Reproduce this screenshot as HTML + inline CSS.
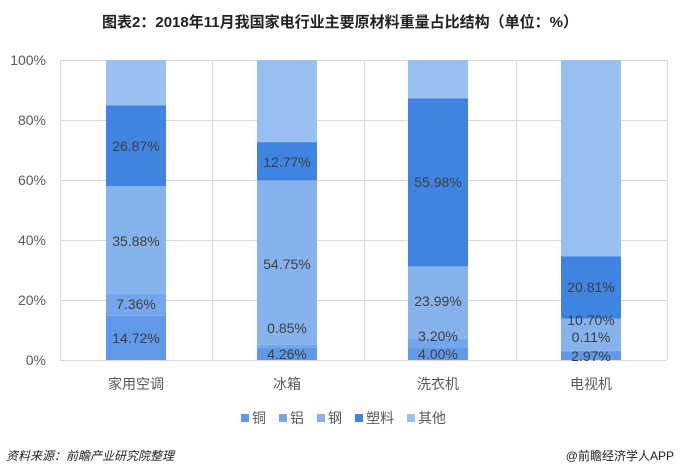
<!DOCTYPE html>
<html><head><meta charset="utf-8"><style>
body{margin:0;background:#fff;}
svg{display:block;font-family:"Liberation Sans","Noto Sans CJK SC",sans-serif;}
.l{font-size:14px;fill:#404040;text-anchor:middle;dominant-baseline:central;}
.ax{font-size:14px;fill:#595959;}
</style></head><body>
<svg width="680" height="474" viewBox="0 0 680 474" xmlns="http://www.w3.org/2000/svg">
<rect width="680" height="474" fill="#fff"/>
<text x="340" y="27" text-anchor="middle" font-size="15" font-weight="bold" fill="#222">图表2：2018年11月我国家电行业主要原材料重量占比结构（单位：%）</text>
<g stroke="#d9d9d9" stroke-width="1">
<line x1="60" y1="60.5" x2="667" y2="60.5"/>
<line x1="60" y1="120.5" x2="667" y2="120.5"/>
<line x1="60" y1="180.5" x2="667" y2="180.5"/>
<line x1="60" y1="240.5" x2="667" y2="240.5"/>
<line x1="60" y1="300.5" x2="667" y2="300.5"/>
<line x1="60" y1="360.5" x2="667" y2="360.5"/>
<line x1="60.5" y1="60" x2="60.5" y2="360"/>
<line x1="212.5" y1="60" x2="212.5" y2="360"/>
<line x1="364.5" y1="60" x2="364.5" y2="360"/>
<line x1="516.5" y1="60" x2="516.5" y2="360"/>
<line x1="667.5" y1="60" x2="667.5" y2="360"/>
</g>
<g class="ax" text-anchor="end">
<text x="46" y="65">100%</text><text x="46" y="125">80%</text><text x="46" y="185">60%</text>
<text x="46" y="245">40%</text><text x="46" y="305">20%</text><text x="46" y="365">0%</text>
</g>
<!-- AC -->
<g>
<rect x="106" y="315.84" width="60" height="44.16" fill="#5f99e7"/>
<rect x="106" y="293.76" width="60" height="22.08" fill="#74a6ec"/>
<rect x="106" y="186.12" width="60" height="107.64" fill="#86b2ee"/>
<rect x="106" y="105.51" width="60" height="80.61" fill="#3f84e0"/>
<rect x="106" y="60" width="60" height="45.51" fill="#98c0f2"/>
</g>
<g>
<rect x="257" y="347.22" width="60" height="12.78" fill="#5f99e7"/>
<rect x="257" y="344.67" width="60" height="2.55" fill="#74a6ec"/>
<rect x="257" y="180.42" width="60" height="164.25" fill="#86b2ee"/>
<rect x="257" y="142.11" width="60" height="38.31" fill="#3f84e0"/>
<rect x="257" y="60" width="60" height="82.11" fill="#98c0f2"/>
</g>
<g>
<rect x="408" y="348" width="60" height="12" fill="#5f99e7"/>
<rect x="408" y="338.4" width="60" height="9.6" fill="#74a6ec"/>
<rect x="408" y="266.43" width="60" height="71.97" fill="#86b2ee"/>
<rect x="408" y="98.49" width="60" height="167.94" fill="#3f84e0"/>
<rect x="408" y="60" width="60" height="38.49" fill="#98c0f2"/>
</g>
<g>
<rect x="561" y="351.09" width="60" height="8.91" fill="#5f99e7"/>
<rect x="561" y="350.76" width="60" height="0.33" fill="#74a6ec"/>
<rect x="561" y="318.66" width="60" height="32.1" fill="#86b2ee"/>
<rect x="561" y="256.23" width="60" height="62.43" fill="#3f84e0"/>
<rect x="561" y="60" width="60" height="196.23" fill="#98c0f2"/>
</g>
<g class="l">
<text x="136" y="146">26.87%</text><text x="136" y="241">35.88%</text><text x="136" y="304">7.36%</text><text x="136" y="338">14.72%</text>
<text x="287" y="162">12.77%</text><text x="287" y="264">54.75%</text><text x="287" y="328">0.85%</text><text x="287" y="354">4.26%</text>
<text x="438" y="182">55.98%</text><text x="438" y="301">23.99%</text><text x="438" y="336">3.20%</text><text x="438" y="354">4.00%</text>
<text x="591" y="287">20.81%</text><text x="591" y="320">10.70%</text><text x="591" y="337">0.11%</text><text x="591" y="356">2.97%</text>
</g>
<g class="ax" text-anchor="middle">
<text x="136" y="389">家用空调</text><text x="287" y="389">冰箱</text><text x="438" y="389">洗衣机</text><text x="591" y="389">电视机</text>
</g>
<g font-size="14" fill="#595959">
<rect x="241" y="414" width="8" height="8" fill="#5f99e7"/><text x="252" y="423">铜</text>
<rect x="279" y="414" width="8" height="8" fill="#74a6ec"/><text x="290" y="423">铝</text>
<rect x="317" y="414" width="8" height="8" fill="#86b2ee"/><text x="328" y="423">钢</text>
<rect x="355" y="414" width="8" height="8" fill="#3f84e0"/><text x="366" y="423">塑料</text>
<rect x="407" y="414" width="8" height="8" fill="#98c0f2"/><text x="418" y="423">其他</text>
</g>
<text x="6" y="460" font-size="12" font-style="italic" fill="#222">资料来源：前瞻产业研究院整理</text>
<text x="674" y="460" font-size="12" fill="#222" text-anchor="end">@前瞻经济学人APP</text>
</svg>
</body></html>
